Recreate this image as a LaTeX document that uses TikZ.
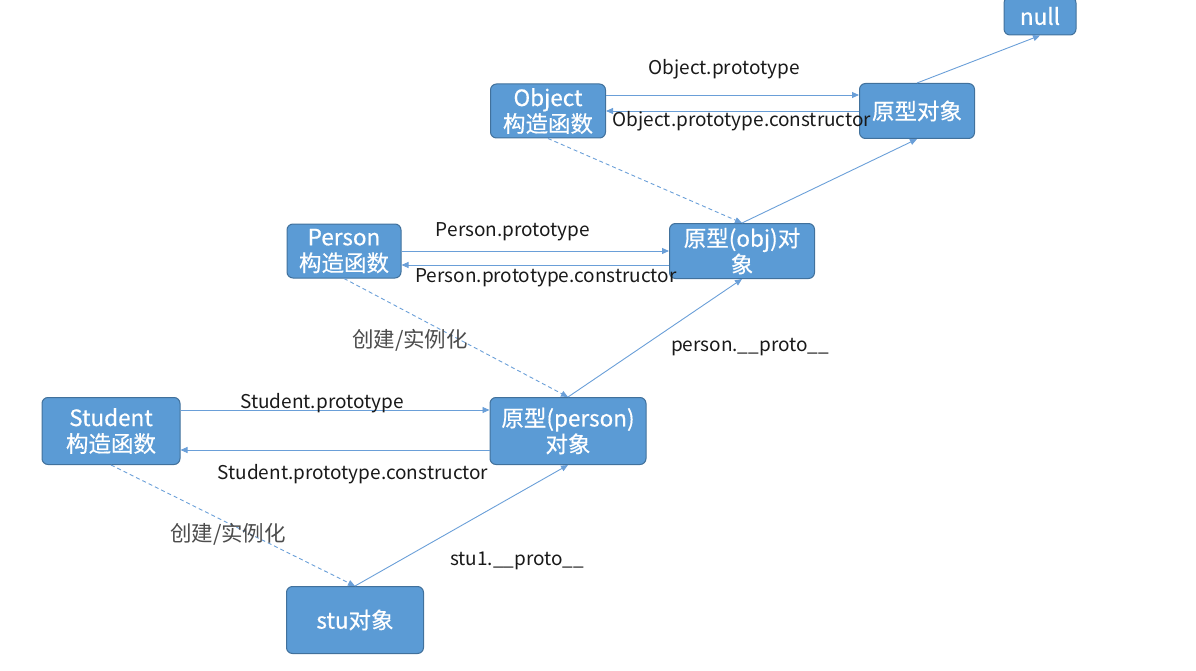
\documentclass[tikz,border=0pt]{standalone}
\usepackage{fontspec}
\newfontfamily\cjk{Noto Sans CJK SC}
\newfontfamily\cjkbox[FakeBold=0.5]{Noto Sans CJK SC}
\usetikzlibrary{arrows.meta}

\definecolor{boxfill}{HTML}{5B9BD5}
\definecolor{boxline}{HTML}{41719C}
\definecolor{linkline}{HTML}{6A9FD8}

\tikzset{
	objbox/.style={draw=boxline, fill=boxfill, line width=1pt, rounded corners=6pt,
		text=white, font=\cjkbox\fontsize{22.5}{26}\selectfont, align=center, inner sep=0pt},
	link/.style={draw=linkline, line width=0.9pt, -{Triangle[length=7pt,width=6pt]}},
	dashlink/.style={link, dash pattern=on 4pt off 3pt},
	lbl/.style={font=\cjk\fontsize{19}{23}\selectfont, text=black!90, inner sep=0pt},
	cnlbl/.style={lbl, font=\cjk\fontsize{21.5}{25}\selectfont, text=black!70},
}

\begin{document}
\begin{tikzpicture}[x=1pt, y=-1pt]
	\useasboundingbox (0,0) rectangle (1196,671);
	% boxes
\node[objbox, minimum width=72pt, minimum height=38pt] (null) at (1040,16) {null}; % null
\node[objbox, minimum width=115pt, minimum height=54pt] (objc) at (548,111) {Object\\构造函数}; % Object.ctor
\node[objbox, minimum width=115pt, minimum height=55pt] (objp) at (917,111) {原型对象}; % Object.proto
\node[objbox, minimum width=114pt, minimum height=54pt] (pc) at (344,251) {Person\\构造函数}; % Person.ctor
\node[objbox, minimum width=145pt, minimum height=55pt] (pobj) at (742,251) {原型(obj)对\\象}; % Person.proto
\node[objbox, minimum width=138pt, minimum height=67pt] (sc) at (111,431) {Student\\构造函数}; % Student.ctor
\node[objbox, minimum width=156pt, minimum height=67pt] (pp) at (568,431) {原型(person)\\对象}; % Student.proto
\node[objbox, minimum width=137pt, minimum height=67pt] (stu) at (355,620) {stu对象}; % stu1
	% prototype / constructor pairs
\draw[link] ([yshift=16pt]objc.east) -- ([yshift=16pt]objp.west);
\draw[link] (objp.west) -- (objc.east);
\draw[link] (pc.east) -- (pobj.west);
\draw[link] ([yshift=-14pt]pobj.west) -- ([yshift=-14pt]pc.east);
\draw[link] ([yshift=21pt]sc.east) -- ([yshift=21pt]pp.west);
\draw[link] ([yshift=-19pt]pp.west) -- ([yshift=-19pt]sc.east);
	% __proto__ chain
\draw[link] (objp.north) -- (null.south);
\draw[link] (pobj.north) -- (objp.south);
\draw[link] (pp.north) -- (pobj.south);
\draw[link] (stu.north) -- (pp.south);
	% instances
\draw[dashlink] (objc.south) -- (pobj.north);
\draw[dashlink] (pc.south) -- (pp.north);
\draw[dashlink] (sc.south) -- (stu.north);
	% labels
\node[lbl] (objpt) at (724,69) {Object.prototype};
\node[lbl] (objcons) at (742,121) {Object.prototype.constructor};
\node[lbl] (ppt) at (513,232) {Person.prototype};
\node[lbl] (pcons) at (546,278) {Person.prototype.constructor};
\node[cnlbl] (pnew) at (410,340) {创建/实例化};
\node[lbl] (pproto) at (750,347) {person.\_\_proto\_\_};
\node[lbl] (spt) at (322,403) {Student.prototype};
\node[lbl] (scons) at (353,474) {Student.prototype.constructor};
\node[cnlbl] (snew) at (228,534) {创建/实例化};
\node[lbl] (sproto) at (517,561) {stu1.\_\_proto\_\_};
\end{tikzpicture}
\end{document}
